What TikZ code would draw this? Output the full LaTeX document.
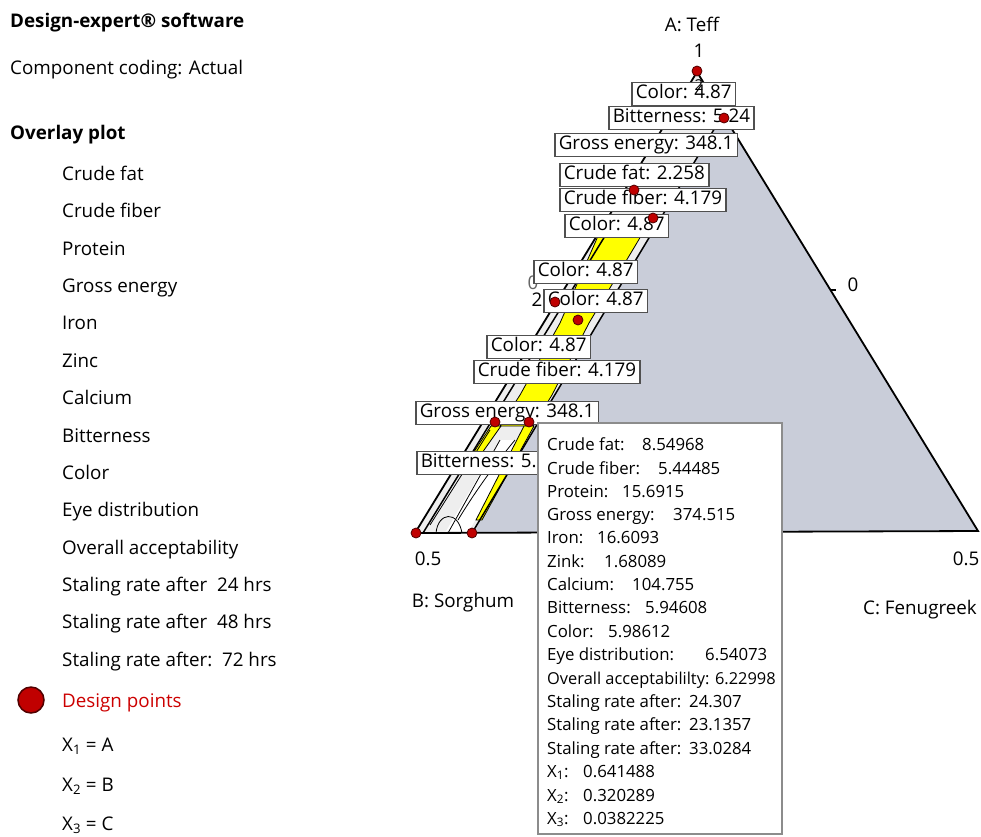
\documentclass[tikz,border=0pt]{standalone}
\usepackage{fontspec}
\setmainfont{Open Sans}
\newcommand{\bigf}{\fontsize{18.8}{22}\selectfont}
\newcommand{\smf}{\fontsize{16.8}{20}\selectfont}
\definecolor{trigray}{HTML}{C9CDD9}
\definecolor{stripw}{HTML}{EEEEEE}
\definecolor{dpred}{HTML}{C00000}
\definecolor{dpdark}{HTML}{500000}
\definecolor{boxgray}{HTML}{505050}
\definecolor{ylw}{HTML}{FFFF00}
\definecolor{legred}{HTML}{CC0000}
\begin{document}
\begin{tikzpicture}[x=1pt,y=-1pt,
  lbl/.style={draw=boxgray,line width=1.6pt,fill=white,font=\bigf,inner xsep=4pt,inner ysep=0pt,text height=13.8pt,text depth=4pt,minimum height=23pt,anchor=west},
  dp/.style={circle,fill=dpred,draw=dpdark,line width=0.8pt,minimum size=10pt,inner sep=0pt},
  leg/.style={anchor=base west,font=\bigf,inner sep=0pt},
  ax/.style={anchor=base,font=\bigf,inner sep=0pt},
  info/.style={anchor=base west,font=\smf,inner sep=0pt},
  edge/.style={line width=1.8pt,black}]
\useasboundingbox (0,0) rectangle (981,836);
% ---------------- triangle ----------------
\coordinate (T) at (697,72);
\coordinate (BL) at (415,533);
\coordinate (BR) at (978,531);
\fill[trigray] (T) -- (BL) -- (BR) -- cycle;
\begin{scope}
  \clip (T) -- (BL) -- (BR) -- cycle;
  \fill[stripw] (697,72) -- (415,533) -- (472,533) -- (740,86) -- cycle;
  \fill[white] (445,533) -- (468,533) -- (520,440) -- (500,440) -- cycle;
  \fill[ylw,draw=black,line width=0.8pt] (598,236) -- (560,323) -- (520,395) -- (500,426) -- (533,426) -- (552,395) -- (589,323) -- (641,236) -- cycle;
  \fill[ylw,draw=black,line width=0.8pt] (491,426) -- (501,426) -- (470,470) -- (462,470) -- cycle;
  \fill[ylw,draw=black,line width=0.8pt] (524,426) -- (534,426) -- (482,520) -- (476,520) -- cycle;
  \draw[line width=1.5pt] (423,533) -- (605,236);
  \draw[line width=1.5pt] (472,533) -- (740,86);
  \draw[line width=0.8pt] (436,533) .. controls (438,512) and (458,510) .. (462,533);
  \draw[line width=0.8pt] (448,533) -- (500,440);
  \draw[line width=0.8pt] (430,525) -- (490,430);
  \draw[line width=0.8pt] (458,520) .. controls (470,500) and (490,470) .. (515,440);
\end{scope}
\draw[edge] (BL) -- (T);
\draw[edge] (BL) -- (BR) -- (T);
\coordinate (tk) at (836,290);
\draw[line width=1.2pt] (830,290) -- (tk);
% ---------------- axis labels ----------------
\node[ax] (la) at (692,31) {A: Teff};
\node[ax] (l1) at (699,57) {1};
\node[ax] (l05a) at (428,565) {0.5};
\node[ax] (l05b) at (966,565) {0.5};
\node[ax] (lb) at (463,607) {B: Sorghum};
\node[ax] (lc) at (920,614) {C: Fenugreek};
\node[ax] (l0r) at (853,291) {0};
\node[ax,text=black!60] (l0l) at (533,289) {0};
\node[ax] (l2l) at (537,306) {2};
% ---------------- label boxes ----------------
\node[lbl] (b1) at (631,94) {Color: 4.87};
\node[lbl] (b2) at (608,118) {Bitterness: 5.24};
\node[lbl] (b3) at (554,145) {Gross energy: 348.1};
\node[lbl] (b4) at (559,175) {Crude fat: 2.258};
\node[lbl] (b5) at (559,200) {Crude fiber: 4.179};
\node[lbl] (b6) at (564,226) {Color: 4.87};
\node[lbl] (b7) at (533,272) {Color: 4.87};
\node[lbl] (b8) at (543,301) {Color: 4.87};
\node[lbl] (b9) at (486,347) {Color: 4.87};
\node[lbl] (b10) at (473,372) {Crude fiber: 4.179};
\node[lbl] (b11) at (415,413) {Gross energy: 348.1};
\node[lbl] (b12) at (416,463) {Bitterness: 5.\hspace{12pt}};
\node[font=\fontsize{15}{15}\selectfont,inner sep=0pt] (l2t) at (699,85) {2};
% ---------------- design points ----------------
\node[dp] (dpA) at (697,71) {};
\node[dp] (dpB) at (724,118) {};
\node[dp] (dpC) at (634,190) {};
\node[dp] (dpD) at (653,218) {};
\node[dp] (dpE) at (555,302) {};
\node[dp] (dpF) at (578,320) {};
\node[dp] (dpG) at (495,422) {};
\node[dp] (dpH) at (529,422) {};
\node[dp] (dpI) at (416,533) {};
\node[dp] (dpJ) at (472,533) {};
% ---------------- info box ----------------
\draw[draw=black!45,line width=1.8pt,fill=white] (538,423) rectangle (782,834);
\node[info] (i1) at (547,450) {Crude fat:};       \node[info] (v1) at (642,450) {8.54968};
\node[info] (i2) at (547,474) {Crude fiber:};     \node[info] (v2) at (658,474) {5.44485};
\node[info] (i3) at (547,497) {Protein:};         \node[info] (v3) at (622,497) {15.6915};
\node[info] (i4) at (547,520) {Gross energy:};    \node[info] (v4) at (673,520) {374.515};
\node[info] (i5) at (547,543) {Iron:};            \node[info] (v5) at (597,543) {16.6093};
\node[info] (i6) at (547,567) {Zink:};            \node[info] (v6) at (604,567) {1.68089};
\node[info] (i7) at (547,590) {Calcium:};         \node[info] (v7) at (632,590) {104.755};
\node[info] (i8) at (547,613) {Bitterness:};      \node[info] (v8) at (645,613) {5.94608};
\node[info] (i9) at (547,637) {Color:};           \node[info] (v9) at (608,637) {5.98612};
\node[info] (i10) at (547,660) {Eye distribution:}; \node[info] (v10) at (705,660) {6.54073};
\node[info,font=\fontsize{16.4}{20}\selectfont] (i11) at (547,684) {Overall acceptabililty: 6.22998};
\node[info] (i12) at (547,707) {Staling rate after:}; \node[info] (v12) at (689,707) {24.307};
\node[info] (i13) at (547,730) {Staling rate after:}; \node[info] (v13) at (689,730) {23.1357};
\node[info] (i14) at (547,754) {Staling rate after:}; \node[info] (v14) at (689,754) {33.0284};
\node[info] (i15) at (547,777) {X\textsubscript{1}:}; \node[info] (v15) at (583,777) {0.641488};
\node[info] (i16) at (547,801) {X\textsubscript{2}:}; \node[info] (v16) at (583,801) {0.320289};
\node[info] (i17) at (547,824) {X\textsubscript{3}:}; \node[info] (v17) at (583,824) {0.0382225};
% ---------------- legend ----------------
\node[leg,font=\bigf\bfseries] (t1) at (10,27) {Design-expert® software};
\node[leg] (t2) at (10,74) {Component coding: Actual};
\node[leg,font=\bigf\bfseries] (t3) at (10,139) {Overlay plot};
\node[leg] (g1) at (62,180) {Crude fat};
\node[leg] (g2) at (62,217) {Crude fiber};
\node[leg] (g3) at (62,255) {Protein};
\node[leg] (g4) at (62,292) {Gross energy};
\node[leg] (g5) at (62,329) {Iron};
\node[leg] (g6) at (62,367) {Zinc};
\node[leg] (g7) at (62,404) {Calcium};
\node[leg] (g8) at (62,442) {Bitterness};
\node[leg] (g9) at (62,479) {Color};
\node[leg] (g10) at (62,516) {Eye distribution};
\node[leg] (g11) at (62,554) {Overall acceptability};
\node[leg] (g12) at (62,591) {Staling rate after\ \ 24 hrs};
\node[leg] (g13) at (62,628) {Staling rate after\ \ 48 hrs};
\node[leg] (g14) at (62,666) {Staling rate after:\ \ 72 hrs};
\node[circle,fill=dpred,draw=dpdark,line width=1.5pt,minimum size=26pt,inner sep=0pt] (ldp) at (31,700) {};
\node[leg,text=legred] (g15) at (62,707) {Design points};
\node[leg] (x1) at (62,751) {X\textsubscript{1} = A};
\node[leg] (x2) at (62,791) {X\textsubscript{2} = B};
\node[leg] (x3) at (62,830) {X\textsubscript{3} = C};
\end{tikzpicture}
\end{document}
